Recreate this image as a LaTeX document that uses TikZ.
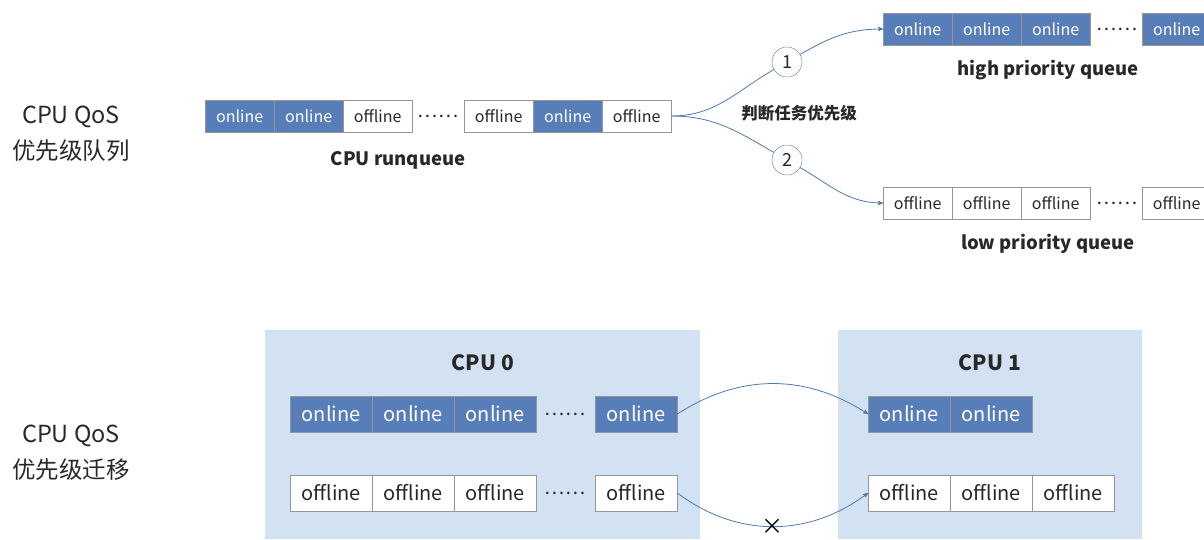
\documentclass[tikz,border=0pt]{standalone}
\usepackage{fontspec}
\setmainfont{Noto Sans CJK SC}
\usetikzlibrary{calc}
\usetikzlibrary{arrows}
\definecolor{qblue}{RGB}{88,126,186}
\definecolor{qline}{RGB}{79,120,183}
\definecolor{qbg}{RGB}{210,226,243}
\definecolor{qgray}{RGB}{150,150,150}
\definecolor{qtext}{RGB}{40,40,40}
\tikzset{
  oncell/.style={draw=qgray, fill=qblue, text=white, minimum width=69pt, minimum height=32pt, inner sep=0, font=\fontsize{16}{18}\selectfont},
  offcell/.style={draw=qgray, fill=white, text=qtext, minimum width=69pt, minimum height=32pt, inner sep=0, font=\fontsize{16}{18}\selectfont},
  bigcell/.style={minimum width=82pt, minimum height=36pt, font=\fontsize{20}{22}\selectfont},
  dotsnode/.style={text=qtext, inner sep=0, font=\fontsize{19}{20}\selectfont},
  numcirc/.style={circle, draw=qline, fill=white, text=qtext, minimum size=30pt, inner sep=0, font=\fontsize{18}{20}\selectfont},
  qlabel/.style={text=qtext, font=\fontsize{18.5}{20}\selectfont\bfseries},
  sidelabel/.style={text=qtext, align=center, font=\fontsize{23.5}{36}\selectfont},
  conn/.style={qline, thick, >=stealth'}
}

\begin{document}
\begin{tikzpicture} [x=1pt, y=-1pt]
\clip (0,0) rectangle (1204,539);
% background of the two cpus
\fill[qbg] (265,330) rectangle (700,539);
\fill[qbg] (838,330) rectangle (1142,539);

\node[sidelabel] (qos1) at (71,134) {CPU QoS\\优先级队列};
\node[sidelabel] (qos2) at (71,453) {CPU QoS\\优先级迁移};

% cpu runqueue
\foreach \s/\w/\x [count=\i] in {oncell/online/205, oncell/online/274, offcell/offline/343, offcell/offline/464, oncell/online/533, offcell/offline/602} {
  \node[\s, anchor=west] (rq\i) at (\x,116) {\w};
}
\node[dotsnode] (rqdots) at (438,116) {……};
\node[qlabel] (rqname) at (398,160) {CPU runqueue};

% high and low priority queues
\foreach \x [count=\i] in {883,952,1021,1142} {
  \node[oncell, anchor=west] (hq\i) at (\x,29) {online};
  \node[offcell, anchor=west] (lq\i) at (\x,203) {offline};
}
\node[dotsnode] (hqdots) at (1117,29) {……};
\node[dotsnode] (lqdots) at (1117,203) {……};
\node[qlabel] (hqname) at (1048,70) {high priority queue};
\node[qlabel] (lqname) at (1048,244) {low priority queue};

\node[numcirc] (c1) at (787,62) {1};
\node[numcirc] (c2) at (787,160) {2};
\node[text=qtext, font=\fontsize{16.5}{18}\selectfont\bfseries] (judge) at (799,113) {判断任务优先级};

\draw[conn] (rq6.east) to[out=0,in=210] (c1);
\draw[conn] (rq6.east) to[out=0,in=150] (c2);
\draw[conn,->] (c1) to[out=30,in=180] (hq1.west);
\draw[conn,->] (c2) to[out=-30,in=180] (lq1.west);

% cpu 0 and cpu 1
\node[qlabel, font=\fontsize{21}{22}\selectfont\bfseries] (cpu0) at (483,363) {CPU 0};
\node[qlabel, font=\fontsize{21}{22}\selectfont\bfseries] (cpu1) at (990,363) {CPU 1};
\foreach \x [count=\i] in {290,372,454,595} {
  \node[oncell, bigcell, anchor=west] (a\i) at (\x,414) {online};
  \node[offcell, bigcell, anchor=west] (b\i) at (\x,493) {offline};
}
\node[dotsnode] (adots) at (565,414) {……};
\node[dotsnode] (bdots) at (565,493) {……};
\foreach \x [count=\i] in {868,950} {
  \node[oncell, bigcell, anchor=west] (c\i) at (\x,414) {online};
}
\foreach \x [count=\i] in {868,950,1032} {
  \node[offcell, bigcell, anchor=west] (d\i) at (\x,493) {offline};
}

\draw[conn,->] (a4.east) to[out=33,in=147] (c1.west);
\draw[conn,->] (b4.east) to[out=-37,in=-143] node[pos=.5, text=black, font=\fontsize{22}{22}\selectfont] (nomove) {×} (d1.west);
\end{tikzpicture}
\end{document}
